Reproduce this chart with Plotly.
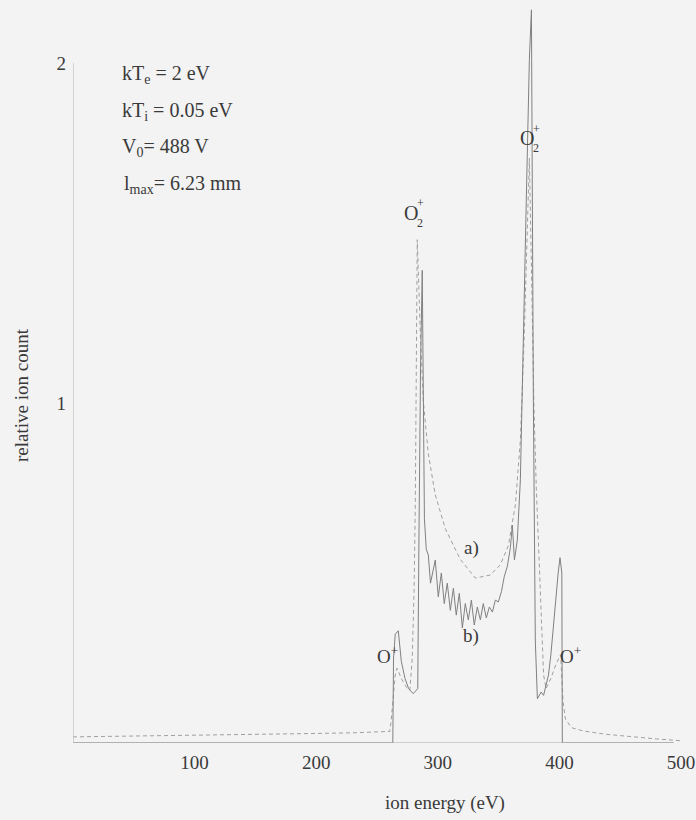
import plotly.graph_objects as go

# a) model spectrum (dashed), energy in eV vs relative ion count
model_energy = [0, 50, 100, 150, 200, 230, 255, 260.5, 261.5, 263, 265, 266.5, 270, 274, 277,
                279, 280.5, 281.5, 282.3, 283.1, 285.6, 288, 292.2, 297.9, 306.2, 318.5,
                330.9, 343.2, 351.4, 358, 363.8, 367.9, 371.2, 373.7, 375.3, 377, 379, 381,
                383, 385, 387, 389, 393, 397, 401, 403, 405, 410, 420, 440, 460, 480, 502]
model_count = [0.018, 0.02, 0.022, 0.025, 0.028, 0.03, 0.032, 0.034, 0.06, 0.12, 0.2, 0.22, 0.19,
               0.165, 0.155, 0.25, 0.45, 0.7, 1.0, 1.48, 1.21, 1.01, 0.85, 0.73, 0.63, 0.54,
               0.485, 0.494, 0.524, 0.58, 0.70, 0.89, 1.21, 1.57, 1.72, 1.4, 1.0, 0.75,
               0.55, 0.35, 0.2, 0.16, 0.19, 0.23, 0.26, 0.12, 0.07, 0.045, 0.035, 0.025,
               0.018, 0.012, 0.006]

# b) simulated spectrum (solid)
sim_energy = [0, 100, 200, 263.0, 263.6, 265, 267.5, 270, 273, 276, 279.8, 283.5, 284.5,
              285.8, 287.2, 288, 289, 290.5, 292.2, 294, 295.5, 297.9, 300.4, 302.9, 305.3,
              307.8, 310.3, 312.8, 315.2, 317.7, 320.2, 322.6, 325.1, 327.6, 330, 332.5,
              335, 337.4, 339.9, 342.4, 344.9, 347.3, 349.8, 352.3, 354.7, 357.2, 359.7,
              361.3, 363, 365.4, 367.9, 370.4, 372.8, 375.3, 377, 378.6, 380.2, 381.9,
              385, 387, 389, 391, 393, 395, 397, 399, 400.5, 402, 402.4, 420, 460, 494]
sim_count = [0, 0, 0, 0, 0.25, 0.32, 0.33, 0.24, 0.19, 0.16, 0.145, 0.16, 0.6,
             1.1, 1.39, 0.9, 0.66, 0.57, 0.553, 0.47, 0.5, 0.538, 0.43, 0.5, 0.41,
             0.47, 0.39, 0.455, 0.376, 0.44, 0.338, 0.41, 0.362, 0.42, 0.347, 0.4,
             0.362, 0.41, 0.368, 0.4, 0.385, 0.42, 0.415, 0.445, 0.49, 0.52, 0.575,
             0.641, 0.538, 0.597, 0.774, 1.156, 1.6, 2.01, 2.156, 1.0, 0.3, 0.13,
             0.15, 0.14, 0.17, 0.2, 0.26, 0.33, 0.42, 0.5, 0.545, 0.5, 0, 0, 0, 0]

x_ticks = [100, 200, 300, 400, 500]
y_ticks = [1, 2]

SERIF = "Liberation Serif, Times New Roman, serif"
INK = "#3a3a3a"
BG = "#f3f3f3"

W, H = 696, 820
M_L, M_R, M_T, M_B = 73, 15, 0, 77

fig = go.Figure()
fig.add_trace(go.Scatter(x=model_energy, y=model_count, mode="lines",
                         line=dict(color="#a0a0a0", width=1, dash="4px,3px"),
                         hoverinfo="skip", showlegend=False))
fig.add_trace(go.Scatter(x=sim_energy, y=sim_count, mode="lines",
                         line=dict(color="#808080", width=1),
                         hoverinfo="skip", showlegend=False))

# axis lines: y only up to the "2" tick, x along the data span
fig.add_shape(type="line", xref="x", yref="y", x0=0, x1=0, y0=0, y1=2.0,
              line=dict(color="#b4b4b4", width=1))
fig.add_shape(type="line", xref="x", yref="y", x0=0, x1=494, y0=0, y1=0,
              line=dict(color="#a8a8a8", width=1))

def label(x, y, text, size=20, xanchor="center"):
    fig.add_annotation(x=x, y=y, xref="x", yref="y", text=text, showarrow=False,
                       xanchor=xanchor, yanchor="middle",
                       font=dict(family=SERIF, size=size, color=INK))

# parameter block
label(38.7, 1.965, "kT<sub>e</sub> = 2 eV", xanchor="left")
label(38.7, 1.856, "kT<sub>i</sub> = 0.05 eV", xanchor="left")
label(38.7, 1.75, "V<sub>0</sub>= 488 V", xanchor="left")
label(40.3, 1.641, "l<sub>max</sub>= 6.23 mm", xanchor="left")

# peak labels (O2+ with stacked charge and index)
label(278.0, 1.559, "O")
label(285.4, 1.587, "+", size=12)
label(285.4, 1.530, "2", size=12)
label(373.5, 1.779, "O")
label(380.9, 1.807, "+", size=12)
label(380.9, 1.750, "2", size=12)
label(258.4, 0.259, "O<sup>+</sup>", size=19)
label(409.0, 0.259, "O<sup>+</sup>", size=19)
label(327.6, 0.574, "a)", size=19)
label(327.6, 0.315, "b)", size=19)

# axis titles, placed by pixel position and converted to plot-area fractions
def px_to_paper(px, py):
    pw = W - M_L - M_R
    ph = H - M_T - M_B
    return (px - M_L) / pw, (H - M_B - py) / ph

tx, ty = px_to_paper(445, 803)
fig.add_annotation(x=tx, y=ty, xref="paper", yref="paper", text="ion energy (eV)",
                   showarrow=False, xanchor="center", yanchor="middle",
                   font=dict(family=SERIF, size=19, color=INK))
tx, ty = px_to_paper(22, 395)
fig.add_annotation(x=tx, y=ty, xref="paper", yref="paper", text="relative ion count",
                   textangle=-90, showarrow=False, xanchor="center", yanchor="middle",
                   font=dict(family=SERIF, size=19, color=INK))

fig.update_layout(
    width=W, height=H,
    margin=dict(l=M_L, r=M_R, t=M_T, b=M_B),
    paper_bgcolor=BG, plot_bgcolor=BG,
    font=dict(family=SERIF, size=18, color=INK),
    xaxis=dict(range=[0, 500], tickvals=x_ticks, ticktext=[str(v) for v in x_ticks],
               showgrid=False, zeroline=False, showline=False, ticks="",
               ticklabelstandoff=6, tickfont=dict(family=SERIF, size=19)),
    yaxis=dict(range=[0, 2.185], tickvals=y_ticks, ticktext=[str(v) for v in y_ticks],
               showgrid=False, zeroline=False, showline=False, ticks="",
               ticklabelstandoff=6, tickfont=dict(family=SERIF, size=19)),
)

fig.write_html("out.html")
